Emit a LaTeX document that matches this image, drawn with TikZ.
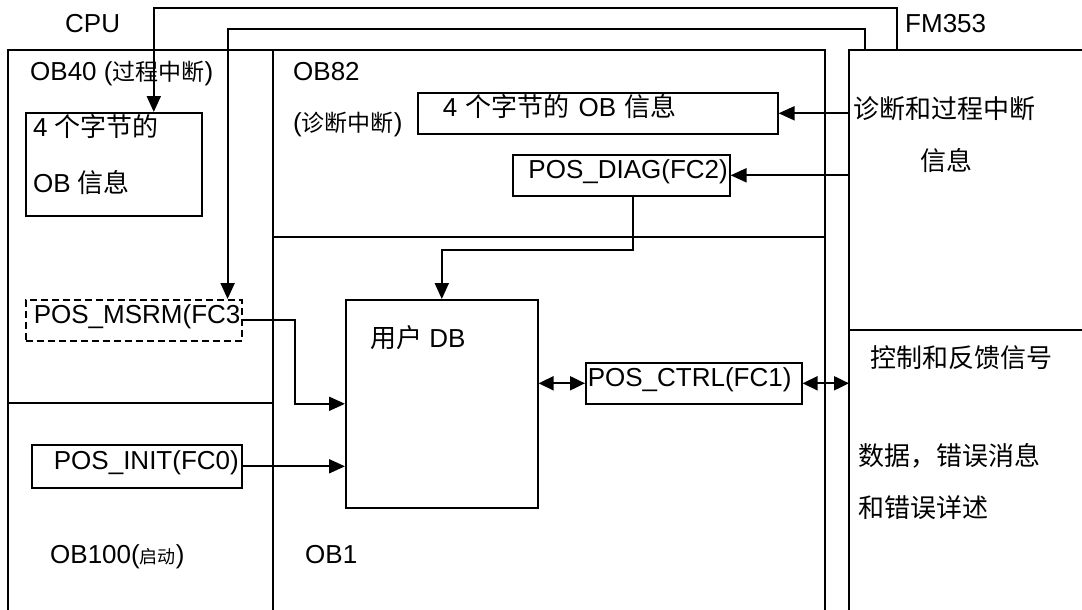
\documentclass[tikz,border=0pt]{standalone}
\usepackage{fontspec}
\setmainfont{Liberation Sans}
\newfontfamily\cjk{Noto Sans CJK SC}
\usepackage{tikz}
\usetikzlibrary{arrows.meta,positioning,calc}
\newcommand{\zh}[1]{{\cjk #1}}
\newcommand{\zhs}[2]{{\fontsize{#1}{#1}\selectfont\cjk #2}}
\tikzset{
  zone/.style={line width=2pt},
  fbox/.style={draw, line width=1.6pt, inner ysep=0pt, minimum height=41pt, anchor=north west,
      text height=18pt, text depth=11pt},
  dbox/.style={fbox, dash pattern=on 7pt off 4pt},
  txt/.style={inner sep=0pt, anchor=base west},
  arr/.style={line width=2pt, -{Triangle[length=16pt,width=14pt]}},
  darr/.style={line width=2pt, {Triangle[length=15pt,width=14pt]}-{Triangle[length=15pt,width=14pt]}},
}

\begin{document}
\begin{tikzpicture}[x=1pt,y=-1pt,font=\fontsize{26}{31}\selectfont]
\useasboundingbox (0,0) rectangle (1082,610);
\draw[zone] (8,610) -- (8,50) -- (825,50) -- (825,610);
\draw[zone] (273,50) -- (273,610);
\draw[zone] (8,403) -- (273,403);
\draw[zone] (273,237) -- (825,237);
\draw[zone] (849,610) -- (849,50) -- (1082,50);
\draw[zone] (849,330) -- (1082,330);
\coordinate (fmL) at (849,0);
\coordinate (fmA) at (897,50);
\coordinate (fmB) at (865,50);

\node[txt] (cpulbl) at (65,33) {CPU};
\node[txt] (fmlbl) at (905,33) {FM353};
\node[txt] (ob40lbl) at (30,81) {OB40 (\zhs{23}{过程中断})};
\node[txt] (ob82lbl) at (293,81) {OB82};
\node[txt] (ob82sub) at (293,131) {(\zhs{23}{诊断中断})};
\node[txt] (ob100lbl) at (50,563) {OB100(\zhs{18}{启动})};
\node[txt] (ob1lbl) at (305,563) {OB1};

\node[fbox, minimum width=176pt, minimum height=103pt] (obinfoA) at (25,112) {};
\node[txt] (obA1) at ([xshift=8pt,yshift=-24pt]obinfoA.north west) {4 \zh{个字节的}};
\node[txt] (obA2) at ([xshift=8pt,yshift=-80pt]obinfoA.north west) {OB \zh{信息}};
\node[fbox, minimum width=360pt, inner xsep=25pt, text width=310pt, align=left] (obinfoB) at (417,92)
  {4 \zh{个字节的} OB \zh{信息}};
\node[fbox, minimum width=217pt, inner xsep=2pt, text width=213pt, align=right] (posdiag) at (512,154)
  {POS\_DIAG(FC2)};
\node[dbox, minimum width=216pt, inner xsep=8pt, text width=200pt, align=left] (posmsrm) at (25,299)
  {POS\_MSRM(FC3};
\node[fbox, minimum width=192pt, minimum height=208pt] (userdb) at (345,299) {};
\node[txt] (dblbl) at ([xshift=25pt,yshift=-48pt]userdb.north west) {\zh{用户} DB};
\node[fbox, minimum width=216pt, inner xsep=2pt, text width=212pt, align=left] (posctrl) at (585,362)
  {POS\_CTRL(FC1)};
\node[fbox, minimum width=210pt, minimum height=43pt, inner xsep=3pt, text width=204pt, align=right] (posinit) at (31,444)
  {POS\_INIT(FC0)};

\node[txt] (fmt1) at (853,118) {\zh{诊断和过程中断}};
\node[txt] (fmt2) at (920,170) {\zh{信息}};
\node[txt] (fmt3) at (870,367) {\zh{控制和反馈信号}};
\node[txt] (fmt4) at (858,465) {\zh{数据，错误消息}};
\node[txt] (fmt5) at (858,517) {\zh{和错误详述}};

\draw[arr] (fmA) -- ++(0,-42) -| ([xshift=40pt]obinfoA.north);
\draw[arr] (fmB) -- ++(0,-21) -| ([xshift=-15pt]posmsrm.north east);
\draw[arr] (obinfoB.east -| fmL) -- (obinfoB.east);
\draw[arr] (posdiag.east -| fmL) -- (posdiag.east);
\draw[arr] ([xshift=12pt]posdiag.south) -- ++(0,53) -| (userdb.north);
\draw[arr] (posmsrm.east) -- ++(52,0) |- (userdb.west);
\draw[arr] (posinit.east) -- (posinit.east -| userdb.west);
\draw[darr] (posctrl.west -| userdb.east) -- (posctrl.west);
\draw[darr] (posctrl.east) -- (posctrl.east -| fmL);
\end{tikzpicture}
\end{document}
